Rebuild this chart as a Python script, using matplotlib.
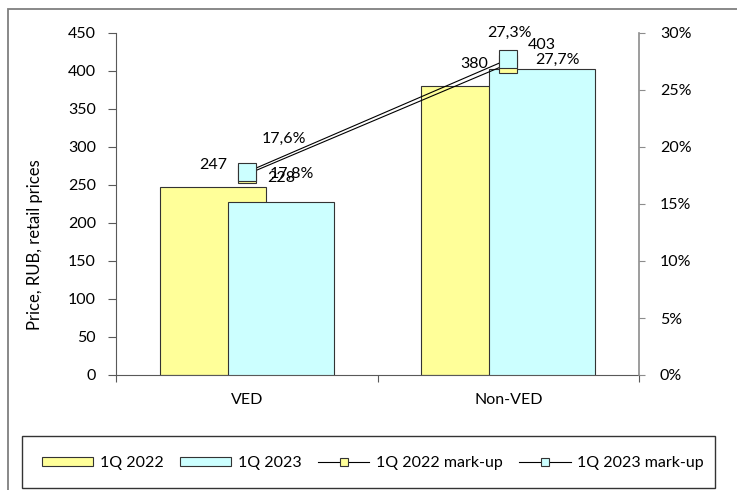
import matplotlib
matplotlib.use("Agg")
import matplotlib.pyplot as plt
from matplotlib.patches import Rectangle, Patch
from matplotlib.lines import Line2D

plt.rcParams['font.family'] = ['Lato', 'DejaVu Sans']

categories = ["VED", "Non-VED"]
price_2022 = [247, 380]
price_2023 = [228, 403]
markup_2022 = [17.6, 27.3]
markup_2023 = [17.8, 27.7]
markup_2022_labels = ["17,6%", "27,3%"]
markup_2023_labels = ["17,8%", "27,7%"]
price_ticks = [0, 50, 100, 150, 200, 250, 300, 350, 400, 450]
pct_ticks = [0, 5, 10, 15, 20, 25, 30]

yellow = '#ffff99'
cyan = '#ccffff'
W, H = 737, 490
fs = 11.5

fig = plt.figure(figsize=(W / 100, H / 100), dpi=100)
ax = fig.add_axes([116 / W, 1 - 375 / H, (639 - 116) / W, (375 - 33) / H])
ax.patch.set_alpha(0)

x = list(range(len(categories)))
bw = 0.405
off = 0.13
ax.bar([i - off for i in x], price_2022, width=bw, color=yellow,
       edgecolor='#333333', linewidth=0.8, zorder=2)
ax.bar([i + off for i in x], price_2023, width=bw, color=cyan,
       edgecolor='#333333', linewidth=0.8, zorder=3)
for i in x:
    ax.annotate(str(price_2022[i]), (i - off, price_2022[i]), xytext=(0, 22),
                textcoords='offset pixels', ha='center', va='center', fontsize=fs)
    ax.annotate(str(price_2023[i]), (i + off, price_2023[i]), xytext=(0, 24),
                textcoords='offset pixels', ha='center', va='center', fontsize=fs)

ax.set_xlim(-0.5, 1.5)
ax.set_ylim(0, 450)
ax.set_yticks(price_ticks)
ax.set_xticks([-0.5, 0.5, 1.5])
ax.set_xticklabels([])
for i, c in enumerate(categories):
    ax.text(i, -0.073, c, transform=ax.get_xaxis_transform(),
            ha='center', va='center', fontsize=fs)
ax.tick_params(axis='y', direction='out', length=6, width=0.8, color='#595959',
               labelsize=fs, pad=8.5)
ax.tick_params(axis='x', direction='out', length=5, width=0.8, color='#595959')
for s in ['top', 'right']:
    ax.spines[s].set_visible(False)
ax.spines['left'].set_color('#595959')
ax.spines['bottom'].set_color('#595959')

ax2 = ax.twinx()
ax2.set_ylim(0, 30)
ax2.set_yticks(pct_ticks)
ax2.set_yticklabels([f"{t}%" for t in pct_ticks])
ax2.tick_params(axis='y', direction='out', length=4, width=0.8, color='#8c8c8c',
                labelsize=fs, pad=11)
for s in ['top', 'left', 'bottom']:
    ax2.spines[s].set_visible(False)
ax2.spines['right'].set_color('#8c8c8c')
ax2.spines['right'].set_linewidth(1.2)

ax2.plot(x, markup_2022, color='black', linewidth=0.8, marker='s', markersize=13,
         markerfacecolor=yellow, markeredgecolor='#333333', markeredgewidth=0.8, zorder=3)
ax2.plot(x, markup_2023, color='black', linewidth=0.8, marker='s', markersize=13,
         markerfacecolor=cyan, markeredgecolor='#333333', markeredgewidth=0.8, zorder=4)

# label offsets in pixels for each mark-up point
offs_2022 = [(37, 35), (1, 31)]
offs_2023 = [(45, -2), (49, -1)]
for i in x:
    ax2.annotate(markup_2022_labels[i], (i, markup_2022[i]), xytext=offs_2022[i],
                 textcoords='offset pixels', ha='center', va='center', fontsize=fs)
    ax2.annotate(markup_2023_labels[i], (i, markup_2023[i]), xytext=offs_2023[i],
                 textcoords='offset pixels', ha='center', va='center', fontsize=fs)

fig.text(35 / W, 1 - 245 / H, "Price, RUB, retail prices", rotation=90,
         ha='center', va='center', fontsize=fs + 0.5)

# outer chart frame and legend frame
fig.add_artist(Rectangle((8 / W, -0.05), 1.1, 1.05 - 9 / H, transform=fig.transFigure,
                         fill=False, edgecolor='#7f7f7f', linewidth=1.3))
fig.add_artist(Rectangle((22 / W, 1 - 488 / H), (715 - 22) / W, (488 - 436) / H,
                         transform=fig.transFigure, fill=False,
                         edgecolor='#333333', linewidth=1.0))

handles = [
    Patch(facecolor=yellow, edgecolor='#333333', linewidth=0.8),
    Patch(facecolor=cyan, edgecolor='#333333', linewidth=0.8),
    Line2D([], [], color='black', linewidth=0.8, marker='s', markersize=6,
           markerfacecolor=yellow, markeredgecolor='#333333', markeredgewidth=0.8),
    Line2D([], [], color='black', linewidth=0.8, marker='s', markersize=6,
           markerfacecolor=cyan, markeredgecolor='#333333', markeredgewidth=0.8),
]
labels = ["1Q 2022", "1Q 2023", "1Q 2022 mark-up", "1Q 2023 mark-up"]
fig.legend(handles, labels, loc='center', bbox_to_anchor=(373 / W, 1 - 463 / H),
           ncol=4, frameon=False, fontsize=fs, handlelength=3.2, handleheight=0.5,
           handletextpad=0.4, columnspacing=1.05, borderpad=0)

fig.savefig("out.png", dpi=100)
